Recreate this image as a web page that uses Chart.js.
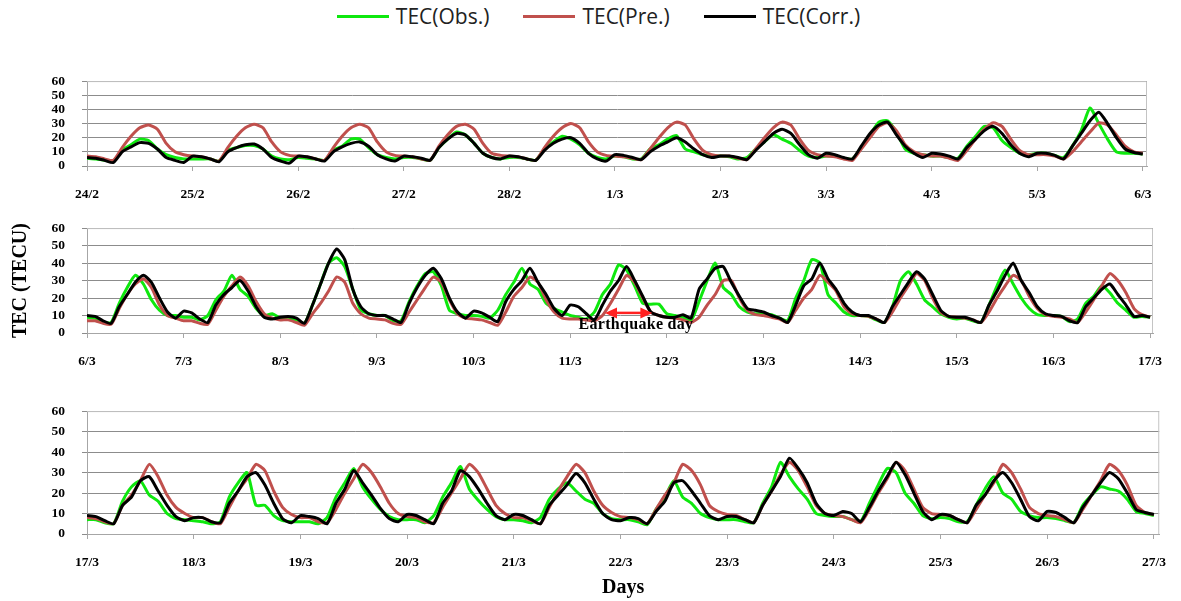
<!DOCTYPE html>
<html>
<head>
<meta charset="utf-8">
<script src="https://cdn.jsdelivr.net/npm/chart.js@4.4.1/dist/chart.umd.min.js"></script>
<style>
  body { margin: 0; background: #fff; width: 1181px; height: 601px; position: relative; overflow: hidden; }
  canvas { position: absolute; left: 0; }
  #legend { position: absolute; top: 2px; left: 8px; width: 1181px; display: flex; justify-content: center;
            font-family: "Open Sans", sans-serif; font-size: 21px; color: #222; }
  #legend .item { display: flex; align-items: center; margin: 0 17px; }
  #legend .swatch { width: 52px; height: 3px; margin-right: 7px; }
</style>
</head>
<body>
<div id="legend"></div>
<canvas id="c1" width="1181" height="144" style="top:56px"></canvas>
<canvas id="c2" width="1181" height="165" style="top:203px"></canvas>
<canvas id="c3" width="1181" height="215" style="top:386px"></canvas>
<script>
var seriesNames = ['TEC(Obs.)', 'TEC(Pre.)', 'TEC(Corr.)'];
var seriesColors = ['#0ee80e', '#c0504d', '#000000'];

// values every 2 hours, 12 per day, last one closes the panel
var days1 = ['24/2', '25/2', '26/2', '27/2', '28/2', '1/3', '2/3', '3/3', '4/3', '5/3', '6/3'];
var obs1 = [
  5.5,5,4,3.5,11,15,19,18,12,8,6,5,
  5,5,5,3.5,11,13,14.5,14.5,12,7,5,4.5,
  6,5.5,5,4,11,14,19,19,13,8,6,5,
  6,6,5,4,13,19,24,22,16,9,6,5,
  6,6,5,4,12,17,21,19,15,9,6,5,
  7,6.5,5,5,12,15,19,21.5,12,10,8,7,
  7,6.5,5,6,12,17,22,19,16,11,7,6,
  7,7,5.5,5,13,22,31,32,24,12,9,8,
  7,7,6,5.5,14,21,28,27,18,13,9,8,
  9,9,7.5,6,14,25,41,30,19,10,9,9,
  8.5];
var pre1 = [
  7,6.5,5,4,13,21,27,29,26,16,10,8,
  7,6.5,5,3.5,13,21,27,29.5,27,17,10,7.5,
  7,6.5,5,4,13,21,27,29.5,27,17,10,7.5,
  7,6.5,5,4,14,22,28,29.5,26,16,9,7.5,
  7,6.5,5,4,13,21,27,30,27,17,10,7.5,
  7,6.5,5.5,4.5,12,20,27,31,29,19,11,8,
  7,7,5.5,4.5,12,20,27,31,29,19,11,8,
  7,6.5,5,4,12,20,28,30.5,25,15,10,8,
  7,7,5.5,4,11,19,26,30.5,28,19,11,8,
  8,8,7,5,10,17,24,30.5,29,22,14,10,
  9];
var corr1 = [
  6,5.5,4,2.5,10,13.5,16.5,16,12,6,4,2.5,
  7,6.5,5,3,10,13,15,15.5,12,6,3.5,2,
  7,6.5,5,3.5,10,13.5,16,17,14,8,5,3.5,
  7,6.5,5.5,4,13,19,23,22,16,9,6,5,
  7,6.5,5,4,11,16,19,20,16,9,5,3.5,
  8,7.5,6,4.5,10,14,17,20,17,12,8,6,
  7,7,6,4.5,11,17,23,26,23,15,8,5.5,
  9,8,6,5,14,23,29,31,22,14,9,6,
  9,8.5,7,5,13,19,25,28,23,15,9,6.5,
  9,9,7.5,5,14,23,32,38,30,20,12,9.5,
  8.5];

var days2 = ['6/3', '7/3', '8/3', '9/3', '10/3', '11/3', '12/3', '13/3', '14/3', '15/3', '16/3', '17/3'];
var obs2 = [
  9,8.5,6,6,17,26,33,28,19,13,10,10,
  9,9,7.5,10,19,24,33,25,21,14,10,11,
  8.5,8.5,7.5,5.5,16,28,40,43,38,25,13,11,
  10,10,7,7,18,27,34,35,27,13,11,10,
  10,9.5,8.5,13,22,29,37,28,25,17,14,12,
  10,9,8,12,22,28,39,36,27,17,16.5,16.5,
  11,10,9,7,18,30,40,26,22,15,12,11,
  11,10.5,8.5,7,20,30,42,40,22,17,12,10,
  10,9.5,7.5,6,15,30,35,28,19,15,11,9,
  8,8.5,7,6,16,27,36,28,20,14,10.5,10,
  10,9.5,6.5,8,17,21,27,23,17,13,9,9.5,
  9];
var pre2 = [
  7,7,5.5,5,14,22,28,31,26,16,10,8.5,
  7,7,5.5,5,13,21,27,32,27,18,11,8.5,
  7.5,7.5,6,4.5,11,17,24,32,29,17,11,8.5,
  8,7.5,5.5,5,12,19,26,32,29,19,11,8.5,
  8,7.5,6,4.5,12,21,26,32,29,19,12,8.5,
  8,8,7.5,7,10,17,25,33,29,20,12,10,
  9,8.5,7.5,6,9,16,22,30,30,20,13,10.5,
  10,9,8,6,13,20,25,33,29,24,15,11,
  10,9.5,8,6,12,20,27,34,30,20,12,9.5,
  9,8.5,7.5,6,12,20,27,33,30,21,14,10.5,
  9.5,9,8,6,12,19,27,34,30,23,14,10.5,
  9];
var corr2 = [
  10,9.5,7,5.5,15,22,29,33,29,20,12,8.5,
  12.5,11.5,8,6,16,22,26,30,24,15,9,8,
  9,9.5,8.5,5.5,16,28,40,48,42,25,15,11,
  10,10,8,6,17,26,33,37,31,20,12,8.5,
  12.5,11.5,9,6.5,18,25,30,37,29,22,14,10,
  16,15,11,7.5,16,24,30,38,30,21,12,10,
  9,9,10.5,8.5,25,31,37,38,29,21,14,13,
  12,10,8.5,6,16,27,31,40,31,25,17,12,
  10,10,8,6,15,22,29,35,31,22,13,9.5,
  9,9,7.5,6,16,24,33,40,30,23,15,11,
  10,9.5,7,6,15,20,25,28,22,16,9.5,10,
  9];

var days3 = ['17/3', '18/3', '19/3', '20/3', '21/3', '22/3', '23/3', '24/3', '25/3', '26/3', '27/3'];
var obs3 = [
  7,7,5.5,5,16,23,26,19,16,10,7.5,7,
  6.5,6,5,6,18,25,30,14,14,9,6.5,6,
  6,6,5,8,18,25,32,23,17,12,8.5,7,
  7,7,5.5,9,18,25,33,22,16.5,12,8.5,7,
  7,6.5,5.5,8,17,22,25,21,17,15,10,7.5,
  7,7,6,4.5,12,18,26,18,15,10,8,7,
  7,7,6,5.5,15,23,35,28,22,17,10,9,
  8.5,8.5,7,6,15,24,32,30,20,15,9,7.5,
  8,7.5,6,6,14,22,28,20,17,11,9,8,
  8,7.5,6.5,5.5,14,19,23,22,21,17,11,10,
  9];
var pre3 = [
  8,7.5,6,5,14,19,26,34,28,19,13,10,
  8,8,6,5,13,21,27,34,31,21,13,9.5,
  8,8,6,5.5,12,20,27,34,30,23,15,10,
  8.5,8,6,5.5,13,20,27,34,30,22,14,10,
  8,8,6.5,5,13,21,28,34,30,21,14,10.5,
  8.5,8,7,5,12,19,25,34,31,24,14,11,
  9.5,9,7,5.5,14,21,29,35,31,23,14,10,
  9,8.5,7,5.5,12,20,27,35,31,22,13,10,
  9.5,9,7,5.5,12,19,25,34,30,22,13,10,
  9,8.5,7,5.5,12,19,26,34,31,24,14,10.5,
  9.5];
var corr3 = [
  9,8.5,6.5,5,14,18,26,28,21,14,8.5,6.5,
  8,8,6,5.5,15,21,28,30,24,15,7.5,5.5,
  9,8.5,7.5,5,15,22,31,25,19,12.5,7.5,6,
  9.5,9,7,5,15,21,31,28,22,15,9,7,
  9.5,9,7,5,14,19,24,29.5,25,17,10,7,
  6.5,8,7.5,5,11,16,25,26,21,15,9,7,
  8.5,8.5,7,5.5,14,21,28,37,32,25,15,10,
  9,11,10,6,13,21,28,35,29,20,11,7,
  9.5,9,7,5.5,14,19,26,30,25,17,8.5,6.5,
  11,10.5,8,5.5,13,19,25,30,27,20,12,10.5,
  9.5];

var quakeText = 'Earthquake day';
var quakeFrom = 5.36, quakeTo = 5.85, quakeArrowY = 11.5;
var quakeTextX = 5.68, quakeTextY = 4.5;

// legend
var legend = document.getElementById('legend');
seriesNames.forEach(function(name, k) {
  var item = document.createElement('div');
  item.className = 'item';
  item.innerHTML = '<span class="swatch" style="background:' + seriesColors[k] + '"></span>' + name;
  legend.appendChild(item);
});

function points(values) {
  return values.map(function(v, i) { return { x: i / 12, y: v }; });
}

var serif = 'Liberation Serif';

var framePlugin = {
  id: 'frame',
  beforeDatasetsDraw: function(chart) {
    var a = chart.chartArea, c = chart.ctx;
    c.save();
    c.strokeStyle = '#c4c4c4';
    c.lineWidth = 1;
    c.beginPath();
    c.moveTo(a.left, a.top + 0.5);
    c.lineTo(a.right - 0.5, a.top + 0.5);
    c.lineTo(a.right - 0.5, a.bottom);
    c.stroke();
    c.restore();
  }
};

var quakePlugin = {
  id: 'quake',
  afterDatasetsDraw: function(chart) {
    var xs = chart.scales.x, ys = chart.scales.y, c = chart.ctx;
    var x1 = xs.getPixelForValue(quakeFrom), x2 = xs.getPixelForValue(quakeTo);
    var y = ys.getPixelForValue(quakeArrowY);
    c.save();
    c.strokeStyle = '#ff2020';
    c.fillStyle = '#ff2020';
    c.lineWidth = 2.5;
    c.beginPath(); c.moveTo(x1 + 8, y); c.lineTo(x2 - 8, y); c.stroke();
    c.beginPath(); c.moveTo(x1, y); c.lineTo(x1 + 12, y - 5.5); c.lineTo(x1 + 12, y + 5.5); c.closePath(); c.fill();
    c.beginPath(); c.moveTo(x2, y); c.lineTo(x2 - 12, y - 5.5); c.lineTo(x2 - 12, y + 5.5); c.closePath(); c.fill();
    c.fillStyle = '#000';
    c.font = 'bold 16px "' + serif + '"';
    c.letterSpacing = '0.3px';
    c.textAlign = 'center';
    c.textBaseline = 'middle';
    c.fillText(quakeText, xs.getPixelForValue(quakeTextX), ys.getPixelForValue(quakeTextY));
    c.restore();
  }
};

function makeChart(id, days, obs, pre, corr, cfg) {
  var n = days.length - 1;
  var ctx = document.getElementById(id).getContext('2d');
  return new Chart(ctx, {
    type: 'line',
    data: {
      datasets: [obs, pre, corr].map(function(vals, k) {
        return {
          label: seriesNames[k],
          data: points(vals),
          borderColor: seriesColors[k],
          backgroundColor: seriesColors[k],
          borderWidth: 3,
          pointRadius: 0,
          tension: 0.2,
          fill: false,
          order: 3 - k
        };
      })
    },
    options: {
      responsive: false,
      animation: false,
      devicePixelRatio: 1,
      layout: { padding: { top: 10, right: cfg.right, left: 0, bottom: 0 } },
      plugins: { legend: { display: false }, tooltip: { enabled: false } },
      scales: {
        x: {
          type: 'linear',
          min: 0,
          max: n + cfg.over,
          grid: { drawOnChartArea: false, tickLength: 5, color: '#a6a6a6' },
          border: { color: '#a6a6a6' },
          ticks: {
            stepSize: 1, includeBounds: false, autoSkip: false, maxRotation: 0, padding: 15,
            color: '#000', font: { family: serif, size: 13.5, weight: 'bold' },
            callback: function(v) { return days[Math.round(v)]; }
          },
          title: cfg.xTitle ? {
            display: true, text: cfg.xTitle, color: '#000',
            font: { family: serif, size: 20, weight: 'bold' }, padding: { top: 0, bottom: 1 }
          } : { display: false },
          afterFit: function(s) { s.height = cfg.xH; }
        },
        y: {
          min: 0,
          max: 60,
          grid: { color: '#8c8c8c', tickLength: 5 },
          border: { color: '#a6a6a6' },
          ticks: {
            stepSize: 10, autoSkip: false, padding: 17, color: '#000',
            font: { family: serif, size: 13.5, weight: 'bold' }
          },
          title: cfg.yTitle ? {
            display: true, text: cfg.yTitle, color: '#000',
            font: { family: serif, size: 20, weight: 'bold' }, padding: { top: 9, bottom: 0 }
          } : { display: false },
          afterFit: function(s) { s.width = 87; }
        }
      }
    },
    plugins: [framePlugin].concat(cfg.plugins || [])
  });
}

makeChart('c1', days1, obs1, pre1, corr1, { right: 34, over: 0.04, xH: 34 });
makeChart('c2', days2, obs2, pre2, corr2, { right: 28, over: 0.03, xH: 35, yTitle: 'TEC (TECU)', plugins: [quakePlugin] });
makeChart('c3', days3, obs3, pre3, corr3, { right: 19, over: 0.05, xH: 67, xTitle: 'Days' });
</script>
</body>
</html>
